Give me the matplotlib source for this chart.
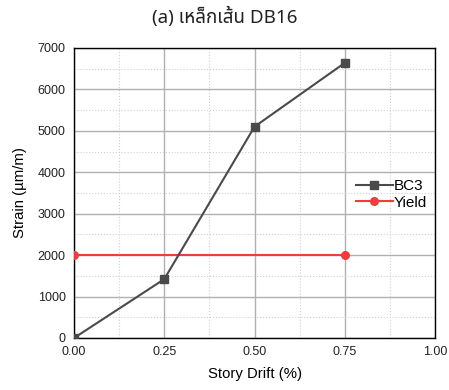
import matplotlib
matplotlib.use("Agg")
import matplotlib.pyplot as plt
from matplotlib.ticker import MultipleLocator

drift = [0.0, 0.25, 0.50, 0.75]
bc3 = [0, 1420, 5100, 6640]
yield_drift = [0.0, 0.75]
yield_strain = [2000, 2000]
title = "(a) เหล็กเส้น DB16"

plt.rcParams['font.family'] = ['Liberation Sans', 'DejaVu Sans']

fig = plt.figure(figsize=(4.49, 3.90), dpi=100)
ax = fig.add_axes([74/449, 1 - 338/390, (435-74)/449, (338-48)/390])

ax.plot(drift, bc3, color='#4a4a4a', lw=1.5, marker='s', ms=5.5, label='BC3', zorder=4)
ax.plot(yield_drift, yield_strain, color='#f03c3c', lw=1.5, marker='o', ms=5.5, label='Yield', zorder=3)

ax.set_xlim(0, 1.0)
ax.set_ylim(0, 7000)
ax.xaxis.set_major_locator(MultipleLocator(0.25))
ax.xaxis.set_minor_locator(MultipleLocator(0.125))
ax.yaxis.set_major_locator(MultipleLocator(1000))
ax.yaxis.set_minor_locator(MultipleLocator(500))
ax.xaxis.set_major_formatter(lambda v, p: f"{v:.2f}")
ax.grid(which='major', color='#b0b0b0', lw=1.0, ls='-')
ax.grid(which='minor', color='#d0d0d0', lw=0.8, ls=':')
ax.set_axisbelow(True)
ax.tick_params(which='both', length=0, labelsize=9, colors='#222222', pad=6)
for s in ax.spines.values():
    s.set_color('black')
    s.set_linewidth(1.0)

ax.set_xlabel('Story Drift (%)', fontsize=10.7, labelpad=6)
ax.set_ylabel('Strain (µm/m)', fontsize=10.7, labelpad=8)

ax.legend(loc='center right', bbox_to_anchor=(1.0, 0.495), frameon=False, fontsize=11,
          handlelength=2.4, handletextpad=0.1, borderaxespad=0.1, labelspacing=0.15)

fig.text(0.5, 1 - 17/390, title, ha='center', va='center', fontsize=13.5, color='#222222',
         family=['Noto Sans Thai', 'Noto Sans', 'DejaVu Sans'])

fig.savefig('out.png', dpi=100)
